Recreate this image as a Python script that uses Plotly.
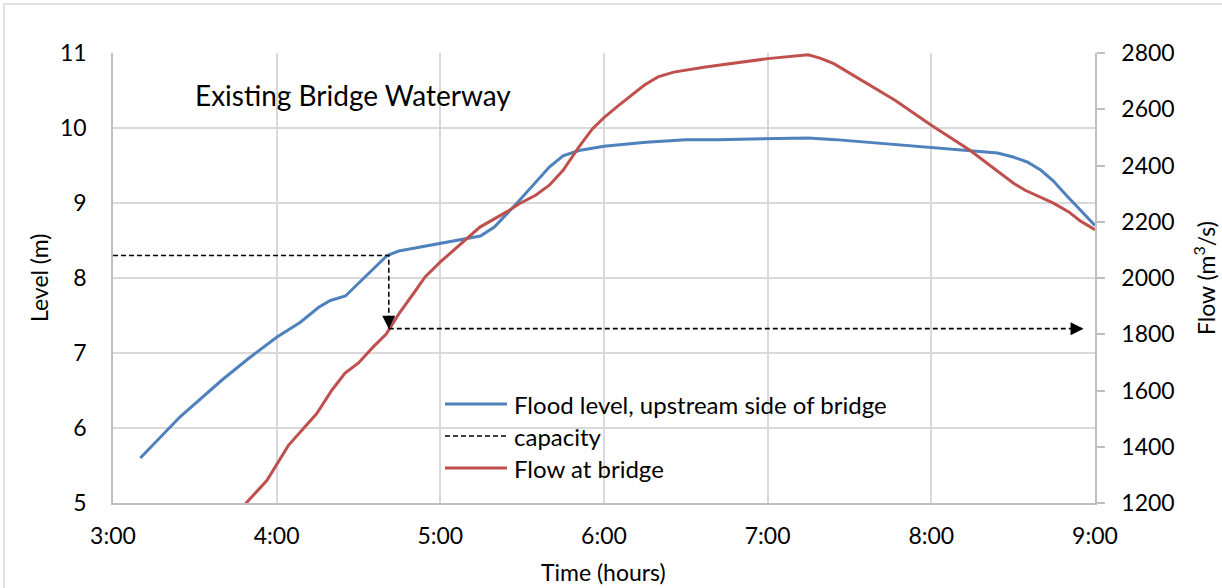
import plotly.graph_objects as go

# Flood level on the upstream side of the bridge (time in hours, level in m)
level_time = [3.167, 3.41, 3.666, 3.83, 4.0, 4.145, 4.257, 4.328, 4.42, 4.553,
              4.675, 4.746, 5.0, 5.245, 5.33, 5.473, 5.666, 5.75, 5.847, 6.0,
              6.257, 6.5, 6.69, 7.0, 7.247, 7.416, 7.776, 8.0, 8.26, 8.405,
              8.5, 8.586, 8.67, 8.743, 8.826, 8.91, 9.0]
level_m = [5.60, 6.15, 6.64, 6.93, 7.21, 7.41, 7.61, 7.70, 7.76, 8.04,
           8.30, 8.36, 8.46, 8.56, 8.68, 9.01, 9.48, 9.63, 9.70, 9.756,
           9.81, 9.845, 9.845, 9.858, 9.867, 9.845, 9.78, 9.747, 9.70, 9.667,
           9.613, 9.547, 9.436, 9.30, 9.10, 8.90, 8.70]

# Flow at the bridge (time in hours, flow in m3/s)
flow_time = [3.79, 3.94, 4.072, 4.245, 4.337, 4.418, 4.5, 4.59, 4.668, 4.754,
             4.835, 4.907, 5.0, 5.08, 5.242, 5.405, 5.485, 5.582, 5.666, 5.75,
             5.847, 5.93, 6.0, 6.09, 6.245, 6.33, 6.426, 6.62, 6.81, 7.0,
             7.247, 7.32, 7.404, 7.778, 8.0, 8.236, 8.5, 8.573, 8.743, 8.84,
             8.91, 9.0]
flow_m3s = [1185, 1280, 1405, 1518, 1601, 1662, 1698, 1755, 1800, 1879,
            1944, 2004, 2057, 2098, 2181, 2235, 2265, 2294, 2330, 2383,
            2466, 2531, 2570, 2614, 2685, 2715, 2732, 2750, 2766, 2780,
            2794, 2782, 2762, 2632, 2543, 2454, 2338, 2312, 2267, 2235,
            2203, 2172]

# Bridge capacity: level reached, time it is reached, matching flow
cap_level = 8.30
cap_time = 4.685
cap_flow = 1820
cap_flow_end_time = 8.93

hour_ticks = [3, 4, 5, 6, 7, 8, 9]
hour_labels = ["3:00", "4:00", "5:00", "6:00", "7:00", "8:00", "9:00"]

LEVEL_RANGE = [5, 11]
FLOW_RANGE = [1200, 2800]

BLUE = "#4F81BD"
RED = "#C0504D"
GRID = "#d9d9d9"
AXIS = "#bfbfbf"
FONT = "Lato"
TICK_SIZE = 23
LABEL_SIZE = 23
LEGEND_SIZE = 24
TITLE_SIZE = 28

W, H = 1222, 588
ML, MR, MT, MB = 113, 127, 53, 85
PW, PH = W - ML - MR, H - MT - MB


def px_x(px):
    return (px - ML) / PW


def px_y(py):
    return (H - MB - py) / PH


def flow_as_level(f):
    return LEVEL_RANGE[0] + (f - FLOW_RANGE[0]) * (LEVEL_RANGE[1] - LEVEL_RANGE[0]) / (FLOW_RANGE[1] - FLOW_RANGE[0])


fig = go.Figure()

fig.add_trace(go.Scatter(x=level_time, y=level_m, mode="lines",
                         line=dict(color=BLUE, width=3),
                         name="Flood level, upstream side of bridge",
                         showlegend=False, yaxis="y"))

fig.add_trace(go.Scatter(x=flow_time, y=flow_m3s, mode="lines",
                         line=dict(color=RED, width=3),
                         name="Flow at bridge", showlegend=False, yaxis="y2"))

# Capacity: across to the level curve, then down to the flow curve
fig.add_trace(go.Scatter(x=[3, cap_time, cap_time],
                         y=[cap_level, cap_level, flow_as_level(cap_flow)],
                         mode="lines", line=dict(color="black", width=1.6, dash="5px,3px"),
                         name="capacity", showlegend=False, yaxis="y"))
# ...and across to the flow axis
fig.add_trace(go.Scatter(x=[cap_time, cap_flow_end_time], y=[cap_flow, cap_flow],
                         mode="lines", line=dict(color="black", width=1.6, dash="5px,3px"),
                         showlegend=False, yaxis="y2"))

shapes = []
# Filled arrowheads at the ends of the capacity lines (pixel-sized, anchored at the tips)
shapes.append(dict(type="path", xref="x", yref="y2", xsizemode="pixel", ysizemode="pixel",
                   xanchor=cap_time, yanchor=cap_flow,
                   path="M -6.5,13 L 6.5,13 L 0,0 Z",
                   fillcolor="black", line=dict(width=0)))
shapes.append(dict(type="path", xref="x", yref="y2", xsizemode="pixel", ysizemode="pixel",
                   xanchor=cap_flow_end_time, yanchor=cap_flow,
                   path="M -13,-6.5 L -13,6.5 L 0,0 Z",
                   fillcolor="black", line=dict(width=0)))

annotations = [
    dict(x=px_x(193), y=px_y(95), xref="paper", yref="paper", xanchor="left", yanchor="middle",
         text="Existing Bridge Waterway", showarrow=False,
         font=dict(size=TITLE_SIZE, color="black", family=FONT)),
    dict(x=px_x(39), y=px_y(278), xref="paper", yref="paper", xanchor="center", yanchor="middle",
         text="Level (m)", textangle=-90, showarrow=False,
         font=dict(size=LABEL_SIZE, color="black", family=FONT)),
    dict(x=px_x(1204), y=px_y(278), xref="paper", yref="paper", xanchor="center", yanchor="middle",
         text="Flow (m<sup>3</sup>/s)", textangle=-90, showarrow=False,
         font=dict(size=LABEL_SIZE, color="black", family=FONT)),
    dict(x=px_x(603), y=px_y(572), xref="paper", yref="paper", xanchor="center", yanchor="middle",
         text="Time (hours)", showarrow=False,
         font=dict(size=LABEL_SIZE, color="black", family=FONT)),
]

# Legend drawn in place inside the plot area
legend_items = [("Flood level, upstream side of bridge", BLUE, "solid", 3, 404),
                ("capacity", "black", "5px,3px", 1.6, 436),
                ("Flow at bridge", RED, "solid", 3, 468)]
for label, color, dash, width, py in legend_items:
    shapes.append(dict(type="line", xref="paper", yref="paper",
                       x0=px_x(445), x1=px_x(507), y0=px_y(py), y1=px_y(py),
                       line=dict(color=color, width=width, dash=dash)))
    annotations.append(dict(x=px_x(512), y=px_y(py), xref="paper", yref="paper",
                            xanchor="left", yanchor="middle", text=label, showarrow=False,
                            font=dict(size=LEGEND_SIZE, color="black", family=FONT)))

# Chart area border
shapes.append(dict(type="rect", xref="paper", yref="paper",
                   x0=px_x(4), x1=px_x(1232), y0=px_y(4), y1=px_y(600),
                   line=dict(color=GRID, width=1.5), layer="below"))

fig.update_layout(
    width=W, height=H, autosize=False,
    margin=dict(l=ML, r=MR, t=MT, b=MB, pad=0),
    paper_bgcolor="white", plot_bgcolor="white",
    font=dict(family=FONT, size=TICK_SIZE, color="black"),
    showlegend=False,
    xaxis=dict(range=[3, 9], tickvals=hour_ticks, ticktext=hour_labels,
               showgrid=True, gridcolor=GRID, gridwidth=1.5,
               showline=True, linecolor=AXIS, linewidth=1.5,
               zeroline=False, ticks="", ticklabelstandoff=12,
               tickfont=dict(size=TICK_SIZE, color="black")),
    yaxis=dict(range=LEVEL_RANGE, dtick=1, showgrid=True, gridcolor=GRID, gridwidth=1.5,
               showline=True, linecolor=AXIS, linewidth=1.5, zeroline=False,
               ticks="", ticklabelstandoff=20, tickfont=dict(size=TICK_SIZE, color="black")),
    yaxis2=dict(range=FLOW_RANGE, dtick=200, overlaying="y", side="right",
                showgrid=False, showline=True, linecolor=AXIS, linewidth=1.5,
                zeroline=False, ticks="outside", ticklen=8, tickcolor=AXIS, tickwidth=1.5,
                ticklabelstandoff=12, tickfont=dict(size=TICK_SIZE, color="black")),
    annotations=annotations,
    shapes=shapes,
)

fig.write_html("out.html")
